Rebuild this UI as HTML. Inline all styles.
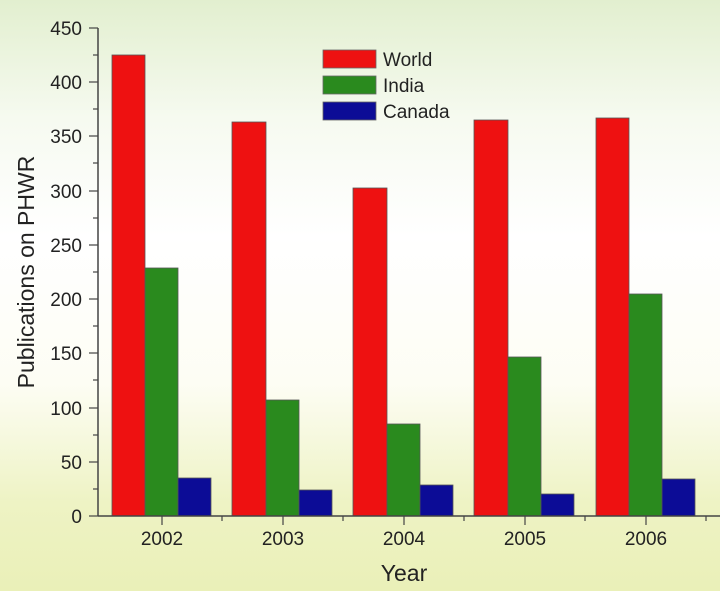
<!DOCTYPE html>
<html><head><meta charset="utf-8"><style>
html,body{margin:0;padding:0;width:720px;height:591px;overflow:hidden}
svg{display:block}
text{font-family:"Liberation Sans",sans-serif;fill:#222}
</style></head><body>
<svg width="720" height="591" viewBox="0 0 720 591">
<defs><linearGradient id="bg" x1="0" y1="0" x2="0" y2="1">
<stop offset="0" stop-color="#e2efcf"/><stop offset="0.2" stop-color="#f6faf0"/>
<stop offset="0.4" stop-color="#ffffff"/><stop offset="0.65" stop-color="#fdfdf4"/>
<stop offset="0.85" stop-color="#eef3c4"/><stop offset="1" stop-color="#eaf0b8"/></linearGradient></defs>
<rect width="720" height="591" fill="url(#bg)"/>
<g stroke="#555" stroke-width="0.8">
<!-- World -->
<rect x="112" y="55" width="33" height="461" fill="#ee1111"/>
<rect x="232" y="122" width="34" height="394" fill="#ee1111"/>
<rect x="353" y="188" width="34" height="328" fill="#ee1111"/>
<rect x="474" y="120" width="34" height="396" fill="#ee1111"/>
<rect x="596" y="118" width="33" height="398" fill="#ee1111"/>
<!-- India -->
<rect x="145" y="268" width="33" height="248" fill="#2a8a1e"/>
<rect x="266" y="400" width="33" height="116" fill="#2a8a1e"/>
<rect x="387" y="424" width="33" height="92" fill="#2a8a1e"/>
<rect x="508" y="357" width="33" height="159" fill="#2a8a1e"/>
<rect x="629" y="294" width="33" height="222" fill="#2a8a1e"/>
<!-- Canada -->
<rect x="178" y="478" width="33" height="38" fill="#0c0c96"/>
<rect x="299" y="490" width="33" height="26" fill="#0c0c96"/>
<rect x="420" y="485" width="33" height="31" fill="#0c0c96"/>
<rect x="541" y="494" width="33" height="22" fill="#0c0c96"/>
<rect x="662" y="479" width="33" height="37" fill="#0c0c96"/>
</g>
<g stroke="#444" stroke-width="1.5" fill="none">
<line x1="98" y1="28" x2="98" y2="516"/>
<line x1="98" y1="516" x2="720" y2="516"/>
</g>
<g stroke="#444" stroke-width="1.2">
<line x1="89" y1="28" x2="98" y2="28"/><line x1="93" y1="55" x2="98" y2="55"/>
<line x1="89" y1="82" x2="98" y2="82"/><line x1="93" y1="109" x2="98" y2="109"/>
<line x1="89" y1="136" x2="98" y2="136"/><line x1="93" y1="163" x2="98" y2="163"/>
<line x1="89" y1="191" x2="98" y2="191"/><line x1="93" y1="218" x2="98" y2="218"/>
<line x1="89" y1="245" x2="98" y2="245"/><line x1="93" y1="272" x2="98" y2="272"/>
<line x1="89" y1="299" x2="98" y2="299"/><line x1="93" y1="326" x2="98" y2="326"/>
<line x1="89" y1="353" x2="98" y2="353"/><line x1="93" y1="380" x2="98" y2="380"/>
<line x1="89" y1="408" x2="98" y2="408"/><line x1="93" y1="435" x2="98" y2="435"/>
<line x1="89" y1="462" x2="98" y2="462"/><line x1="93" y1="489" x2="98" y2="489"/>
<line x1="89" y1="516" x2="98" y2="516"/>
<line x1="162" y1="516" x2="162" y2="525"/><line x1="283" y1="516" x2="283" y2="525"/>
<line x1="404" y1="516" x2="404" y2="525"/><line x1="525" y1="516" x2="525" y2="525"/>
<line x1="646" y1="516" x2="646" y2="525"/>
<line x1="222" y1="516" x2="222" y2="521"/><line x1="343" y1="516" x2="343" y2="521"/>
<line x1="464" y1="516" x2="464" y2="521"/><line x1="585" y1="516" x2="585" y2="521"/>
<line x1="706" y1="516" x2="706" y2="521"/>
</g>
<g font-size="19" text-anchor="end">
<text x="82" y="35">450</text><text x="82" y="89">400</text><text x="82" y="143">350</text>
<text x="82" y="198">300</text><text x="82" y="252">250</text><text x="82" y="306">200</text>
<text x="82" y="360">150</text><text x="82" y="415">100</text><text x="82" y="469">50</text>
<text x="82" y="523">0</text>
</g>
<g font-size="19" text-anchor="middle">
<text x="162" y="545">2002</text><text x="283" y="545">2003</text><text x="404" y="545">2004</text>
<text x="525" y="545">2005</text><text x="646" y="545">2006</text>
<text x="404" y="581" font-size="23">Year</text>
<text transform="translate(34,272) rotate(-90)" font-size="23">Publications on PHWR</text>
</g>
<g stroke="#666" stroke-width="0.8">
<rect x="323" y="50" width="53" height="18" fill="#ee1111"/>
<rect x="323" y="76" width="53" height="18" fill="#2a8a1e"/>
<rect x="323" y="102" width="53" height="18" fill="#0c0c96"/>
</g>
<g font-size="19"><text x="383" y="66">World</text><text x="383" y="92">India</text><text x="383" y="118">Canada</text></g>
</svg>
</body></html>
